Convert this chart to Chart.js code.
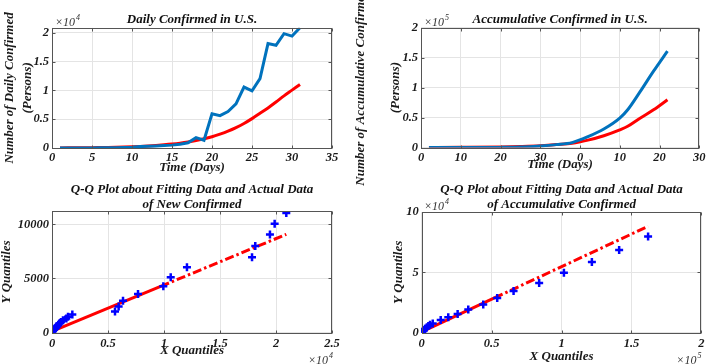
<!DOCTYPE html>
<html>
<head>
<meta charset="utf-8">
<script src="https://cdn.jsdelivr.net/npm/chart.js@4.4.1/dist/chart.umd.min.js"></script>
<style>
  html, body { margin: 0; padding: 0; background: #fff; }
  #wrap { position: relative; width: 708px; height: 364px; overflow: hidden; }
  #wrap canvas { position: absolute; left: 0; top: 0; }
</style>
</head>
<body>
<div id="wrap">
  <canvas id="daily" width="708" height="364"></canvas>
  <canvas id="accum" width="708" height="364"></canvas>
  <canvas id="qqNew" width="708" height="364"></canvas>
  <canvas id="qqAcc" width="708" height="364"></canvas>
</div>
<script>
// daily confirmed, days 1..31
const dailyActual = [0, 5, 10, 15, 20, 30, 40, 60, 90, 150, 250, 300, 350, 420, 500, 650, 900, 1800, 1350,
  5950, 5625, 6340, 7680, 10600, 9940, 12050, 18150, 17860, 19880, 19460, 20900];
const dailyFit = [20, 30, 40, 50, 60, 80, 100, 130, 170, 220, 280, 350, 440, 550, 680, 840, 1040, 1290, 1600,
  1950, 2415, 2940, 3560, 4270, 5110, 6040, 6970, 7990, 9070, 10060, 11050];
const dailyXTicks = [0, 5, 10, 15, 20, 25, 30, 35];
const dailyYTicks = [0, 5000, 10000, 15000, 20000];

// accumulative confirmed (positions on the time axis)
const accDays = [2, 10, 20, 25, 30, 34, 38, 42, 46, 50, 52, 55, 58.5, 62];
const accActual = [0, 50, 200, 700, 2500, 4800, 8200, 18000, 30800, 49000, 63000, 92000, 127500, 161000];
const accFit = [100, 300, 900, 1700, 3000, 5000, 7000, 12300, 19700, 29500, 35500, 48500, 63000, 79700];
const accXTicks = [0, 10, 20, 30, 40, 50, 60, 70];
const accTickLabels = ["0", "10", "20", "30", "0", "10", "20", "30"];
const accYTicks = [0, 50000, 100000, 150000, 200000];

// Q-Q, new confirmed
const qqNewX = [0, 10, 20, 40, 60, 90, 130, 180, 250, 320, 400, 480, 560, 650, 800, 980, 1280, 1430, 1815,
  5625, 5950, 6340, 7680, 9940, 10600, 12050, 17860, 18150, 19460, 19880, 20920];
const qqNewY = [30, 50, 70, 100, 130, 170, 220, 280, 350, 420, 500, 600, 700, 830, 960, 1140, 1290, 1450, 1660,
  1950, 2415, 2940, 3560, 4270, 5110, 6040, 6970, 7990, 9070, 10060, 11050];
const qqNewRefX = [0, 9700, 20920];
const qqNewRefY = [100, 4260, 9080];
const qqNewXTicks = [0, 5000, 10000, 15000, 20000, 25000];
const qqNewYTicks = [0, 5000, 10000];

// Q-Q, accumulative confirmed
const qqAccX = [0, 0, 0, 5, 10, 20, 40, 60, 100, 150, 240, 400, 710, 1430, 2380, 3570, 4760, 5950, 7900,
  13600, 19000, 25700, 33300, 44000, 54000, 65700, 84000, 101700, 121700, 141200, 161900];
const qqAccY = [0, 10, 20, 40, 60, 90, 130, 180, 230, 280, 400, 700, 1120, 1960, 3080, 4200, 5320, 6440, 7560,
  10400, 12600, 15400, 19050, 23200, 28600, 34450, 41200, 49600, 58500, 68600, 79800];
const qqAccRefX = [0, 52000, 161900];
const qqAccRefY = [500, 28670, 88200];
const qqAccXTicks = [0, 50000, 100000, 150000, 200000];
const qqAccYTicks = [0, 50000, 100000];

const BLUE = '#0072BD', RED = '#FF0000', MARK = '#0000FF';
const GRID = '#e4e4e4', TXT = '#1a1a1a', AXIS = '#555';
const FAM = '"Liberation Serif", "Times New Roman", serif';
const F = (size, lh) => ({ family: FAM, size: size, style: 'italic', weight: 'bold', lineHeight: lh || 1.2 });

// MATLAB style box with small inward ticks
const framePlugin = {
  id: 'frame',
  afterDraw(chart) {
    const { ctx, chartArea: a, scales } = chart;
    const L = Math.round(a.left) + 0.5, T = Math.round(a.top) + 0.5;
    const R = Math.round(a.right) - 0.5, B = Math.round(a.bottom) + 0.5;
    ctx.save();
    ctx.strokeStyle = AXIS;
    ctx.lineWidth = 1;
    ctx.strokeRect(L, T, R - L, B - T);
    ctx.beginPath();
    scales.x.ticks.forEach(t => {
      const px = Math.round(scales.x.getPixelForValue(t.value)) + 0.5;
      ctx.moveTo(px, B); ctx.lineTo(px, B - 3);
      ctx.moveTo(px, T); ctx.lineTo(px, T + 3);
    });
    scales.y.ticks.forEach(t => {
      const py = Math.round(scales.y.getPixelForValue(t.value)) + 0.5;
      ctx.moveTo(L, py); ctx.lineTo(L + 3, py);
      ctx.moveTo(R, py); ctx.lineTo(R - 3, py);
    });
    ctx.stroke();
    ctx.restore();
  }
};

// "x10^n" exponent labels
function expLabel(items) {
  return {
    id: 'expLabel',
    afterDraw(chart) {
      const { ctx, chartArea: a } = chart;
      items.forEach(it => {
        let x = it.side === 'right' ? a.right + it.dx : a.left + it.dx;
        const y = it.anchor === 'bottom' ? a.bottom + it.dy : a.top + it.dy;
        const base = 'italic 12px ' + FAM, sup = 'italic 8px ' + FAM;
        ctx.save();
        ctx.fillStyle = '#333';
        ctx.textBaseline = 'middle';
        ctx.textAlign = 'left';
        ctx.font = base;
        const w1 = ctx.measureText('\u00d710').width;
        ctx.font = sup;
        const w2 = ctx.measureText(it.pow).width;
        if (it.side === 'right') x -= w1 + w2 + 1;
        ctx.font = base;
        ctx.fillText('\u00d710', x, y);
        ctx.font = sup;
        ctx.fillText(it.pow, x + w1 + 1, y - 5);
        ctx.restore();
      });
    }
  };
}

const useTicks = arr => s => { s.ticks = arr.map(v => ({ value: v })); };

function xScale(min, max, tickVals, fmt, title, height, pad) {
  return {
    type: 'linear', min: min, max: max,
    afterBuildTicks: useTicks(tickVals),
    ticks: { font: F(12.5), color: TXT, padding: pad, maxRotation: 0, autoSkip: false, callback: fmt },
    grid: { color: GRID, drawTicks: false },
    border: { display: false },
    title: { display: true, text: title, font: F(13), color: TXT, padding: { top: 0, bottom: 0 } },
    afterFit(s) { s.height = height; }
  };
}

function yScale(min, max, tickVals, fmt, title, width, titleFont, titlePad) {
  return {
    type: 'linear', min: min, max: max,
    afterBuildTicks: useTicks(tickVals),
    ticks: { font: F(12.5), color: TXT, padding: 3, autoSkip: false, callback: fmt },
    grid: { color: GRID, drawTicks: false },
    border: { display: false },
    title: { display: true, text: title, font: titleFont, color: TXT, padding: { top: titlePad, bottom: 0 } },
    afterFit(s) { s.width = width; }
  };
}

function baseOptions(padding, title, titlePad, titleLh, scales) {
  return {
    responsive: false,
    animation: false,
    events: [],
    layout: { padding: padding },
    plugins: {
      legend: { display: false },
      tooltip: { enabled: false },
      title: { display: true, text: title, fullSize: false, font: F(13, titleLh), color: '#111', padding: titlePad }
    },
    scales: scales
  };
}

const pts = (xs, ys) => xs.map((x, i) => ({ x: x, y: ys[i] }));
const lineSet = (data, color, smooth) => ({
  data: data, showLine: true, borderColor: color, borderWidth: 3, pointRadius: 0,
  cubicInterpolationMode: smooth ? 'monotone' : 'default', tension: 0
});

// top left: daily confirmed
new Chart(document.getElementById('daily'), {
  type: 'scatter',
  data: {
    datasets: [
      lineSet(dailyActual.map((v, i) => ({ x: i + 1, y: v })), BLUE, false),
      lineSet(dailyFit.map((v, i) => ({ x: i + 1, y: v })), RED, true)
    ]
  },
  options: baseOptions({ left: 0, right: 376, top: 0, bottom: 188.2 }, 'Daily Confirmed in U.S.',
    { top: 12.2, bottom: 0 }, 1.2, {
      x: xScale(0, 35, dailyXTicks, v => String(v), 'Time (Days)', 27.8, 2.5),
      y: yScale(0, 20900, dailyYTicks, v => String(v / 1e4), ['Number of Daily Confirmed', '(Persons)'], 52, F(13, 18 / 13), 1)
    }),
  plugins: [framePlugin, expLabel([{ pow: '4', side: 'left', dx: 3, anchor: 'top', dy: -5.3 }])]
});

// top right: accumulative confirmed
new Chart(document.getElementById('accum'), {
  type: 'scatter',
  data: {
    datasets: [
      lineSet(pts(accDays, accActual), BLUE, true),
      lineSet(pts(accDays, accFit), RED, true)
    ]
  },
  options: baseOptions({ left: 343, right: 6, top: 0, bottom: 191.9 }, 'Accumulative Confirmed in U.S.',
    { top: 12.2, bottom: 0 }, 1.2, {
      x: xScale(0, 70, accXTicks, (v, i) => accTickLabels[i], 'Time (Days)', 24.6, 2.5),
      y: yScale(0, 200000, accYTicks, v => String(v / 1e5), ['Number of Accumulative Confirmed', '(Persons)'], 78, F(13, 35 / 13), 0.5)
    }),
  plugins: [framePlugin, expLabel([{ pow: '5', side: 'left', dx: 3, anchor: 'top', dy: -5.3 }])]
});

function qqSets(xs, ys, refX, refY) {
  return [
    { data: pts(xs, ys), pointStyle: 'cross', pointRadius: 4, borderWidth: 2.5,
      borderColor: MARK, backgroundColor: MARK, showLine: false },
    { data: pts(refX.slice(0, 2), refY.slice(0, 2)), showLine: true, borderColor: RED, borderWidth: 3, pointRadius: 0 },
    { data: pts(refX.slice(1), refY.slice(1)), showLine: true, borderColor: RED, borderWidth: 3, pointRadius: 0,
      borderDash: [9, 3, 2.5, 3] }
  ];
}

// bottom left: Q-Q new confirmed
new Chart(document.getElementById('qqNew'), {
  type: 'scatter',
  data: { datasets: qqSets(qqNewX, qqNewY, qqNewRefX, qqNewRefY) },
  options: baseOptions({ left: 0, right: 376, top: 181.6, bottom: 5.9 },
    ['Q-Q Plot about Fitting Data and Actual Data', 'of New Confirmed'],
    { top: 0, bottom: -1 }, 15.4 / 13, {
      x: xScale(0, 25000, qqNewXTicks, v => String(v / 1e4), 'X Quantiles', 25.6, 3.5),
      y: yScale(0, 11200, qqNewYTicks, v => String(v), 'Y Quantiles', 52, F(13, 1), 0)
    }),
  plugins: [framePlugin, expLabel([{ pow: '4', side: 'right', dx: 1, anchor: 'bottom', dy: 28.5 }])]
});

// bottom right: Q-Q accumulative confirmed
new Chart(document.getElementById('qqAcc'), {
  type: 'scatter',
  data: { datasets: qqSets(qqAccX, qqAccY, qqAccRefX, qqAccRefY) },
  options: baseOptions({ left: 392.5, right: 6, top: 181.6, bottom: 0 },
    ['Q-Q Plot about Fitting Data and Actual Data', 'of Accumulative Confirmed'],
    { top: 0, bottom: -0.3 }, 15.4 / 13, {
      x: xScale(0, 200000, qqAccXTicks, v => String(v / 1e5), 'X Quantiles', 31.5, 3.5),
      y: yScale(0, 100000, qqAccYTicks, v => String(v / 1e4), 'Y Quantiles', 29.2, F(13, 1), 0)
    }),
  plugins: [framePlugin, expLabel([
    { pow: '4', side: 'left', dx: 2.3, anchor: 'top', dy: -5 },
    { pow: '5', side: 'right', dx: 0, anchor: 'bottom', dy: 28.5 }
  ])]
});
</script>
</body>
</html>
